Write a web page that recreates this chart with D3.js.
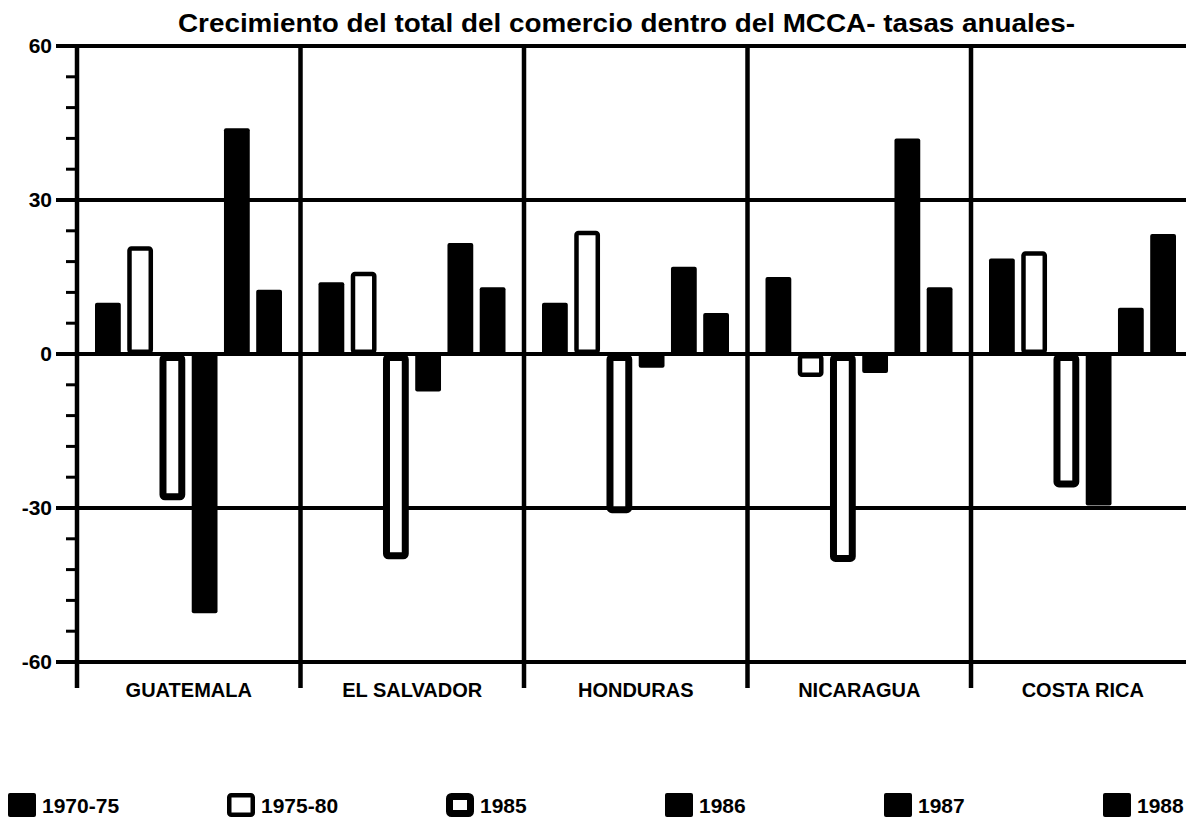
<!DOCTYPE html>
<html>
    <head>
        <meta charset="utf-8" />
        <title>Crecimiento del total del comercio dentro del MCCA</title>
        <script src="https://d3js.org/d3.v7.min.js"></script>
        <style>
            body { margin: 0; background: white; }
            svg { display: block; font-family: "Liberation Sans", Arial, sans-serif; }
        </style>
    </head>

    <body>
        <svg width="1186" height="820" id="chart"></svg>

        <script>

            // categories and periods
            var countries = ["GUATEMALA", "EL SALVADOR", "HONDURAS", "NICARAGUA", "COSTA RICA"];
            var periods = ["1970-75", "1975-80", "1985", "1986", "1987", "1988"];

            // growth rates per period (one value per country)
            var v1970_75 = [10, 14, 10, 15, 18.6];
            var v1975_80 = [21, 16, 24, -4.5, 20];
            var v1985 = [-28.5, -40, -31, -40.5, -26];
            var v1986 = [-50.5, -7.3, -2.7, -3.7, -29.5];
            var v1987 = [44, 21.6, 17, 42, 9];
            var v1988 = [12.5, 13, 8, 13, 23.4];

            var yMajor = [60, 30, 0, -30, -60];
            var yMinor = [54, 48, 42, 36, 24, 18, 12, 6, -6, -12, -18, -24, -36, -42, -48, -54];

            var series = [v1970_75, v1975_80, v1985, v1986, v1987, v1988];

            // build a flat table for the bars
            var bars = [];
            countries.forEach(function(c, i) {
                periods.forEach(function(p, j) {
                    bars.push({country: c, period: p, value: series[j][i]});
                });
            });

            var svg = d3.select("#chart");

            var left = 77, groupW = 223.5;

            var x0 = d3.scaleBand()
                .domain(countries)
                .range([left, left + groupW * countries.length]);

            var x1 = d3.scaleBand()
                .domain(periods)
                .range([18, 205])
                .paddingInner(0.2);

            var y = d3.scaleLinear()
                .domain([-60, 60])
                .range([662, 46]);

            // style of each period: fill + stroke width
            var style = {
                "1970-75": {fill: "#000", sw: 0},
                "1975-80": {fill: "#fff", sw: 4.5},
                "1985": {fill: "#fff", sw: 7},
                "1986": {fill: "#000", sw: 0},
                "1987": {fill: "#000", sw: 0},
                "1988": {fill: "#000", sw: 0}
            };

            // title
            svg.append("text")
                .attr("x", 178)
                .attr("y", 32)
                .attr("textLength", 897)
                .attr("lengthAdjust", "spacingAndGlyphs")
                .style("font-size", "25px")
                .style("font-weight", "bold")
                .text("Crecimiento del total del comercio dentro del MCCA- tasas anuales-");

            // horizontal grid lines at the major values
            svg.selectAll(".grid")
                .data(yMajor)
                .enter().append("line")
                .attr("class", "grid")
                .attr("x1", 56)
                .attr("x2", 1186)
                .attr("y1", function(d) { return y(d); })
                .attr("y2", function(d) { return y(d); })
                .attr("stroke", "#000")
                .attr("stroke-width", 4);

            // minor ticks on the left axis
            svg.selectAll(".minor")
                .data(yMinor)
                .enter().append("line")
                .attr("class", "minor")
                .attr("x1", 66)
                .attr("x2", left)
                .attr("y1", function(d) { return y(d); })
                .attr("y2", function(d) { return y(d); })
                .attr("stroke", "#000")
                .attr("stroke-width", 3);

            // y labels
            svg.selectAll(".ylab")
                .data(yMajor)
                .enter().append("text")
                .attr("class", "ylab")
                .attr("x", 52)
                .attr("y", function(d) { return y(d) + 7; })
                .attr("text-anchor", "end")
                .style("font-size", "21px")
                .style("font-weight", "bold")
                .text(function(d) { return d; });

            // axis + group dividers
            svg.selectAll(".divider")
                .data(countries)
                .enter().append("line")
                .attr("class", "divider")
                .attr("x1", function(d) { return x0(d); })
                .attr("x2", function(d) { return x0(d); })
                .attr("y1", y(60))
                .attr("y2", 688)
                .attr("stroke", "#000")
                .attr("stroke-width", 4.5);

            // bars
            svg.selectAll(".bar")
                .data(bars)
                .enter().append("rect")
                .attr("class", "bar")
                .attr("x", function(d) { return x0(d.country) + x1(d.period) + style[d.period].sw / 2; })
                .attr("y", function(d) { return y(Math.max(0, d.value)) + style[d.period].sw / 2; })
                .attr("width", function(d) { return x1.bandwidth() - style[d.period].sw; })
                .attr("height", function(d) { return Math.abs(y(d.value) - y(0)) - style[d.period].sw; })
                .attr("rx", 2)
                .attr("fill", function(d) { return style[d.period].fill; })
                .attr("stroke", "#000")
                .attr("stroke-width", function(d) { return style[d.period].sw; });

            // country labels
            svg.selectAll(".clab")
                .data(countries)
                .enter().append("text")
                .attr("class", "clab")
                .attr("x", function(d) { return x0(d) + groupW / 2; })
                .attr("y", 697)
                .attr("text-anchor", "middle")
                .style("font-size", "20px")
                .style("font-weight", "bold")
                .text(function(d) { return d; });

            // legend
            var legend = svg.selectAll(".legend")
                .data(periods)
                .enter().append("g")
                .attr("class", "legend")
                .attr("transform", function(d, i) { return "translate(" + (8 + i * 219) + ",793)"; });

            legend.append("rect")
                .attr("x", function(d) { return style[d].sw / 2; })
                .attr("y", function(d) { return style[d].sw / 2; })
                .attr("width", function(d) { return 28 - style[d].sw; })
                .attr("height", function(d) { return 24 - style[d].sw; })
                .attr("rx", 2)
                .attr("fill", function(d) { return style[d].fill; })
                .attr("stroke", "#000")
                .attr("stroke-width", function(d) { return style[d].sw; });

            legend.append("text")
                .attr("x", 34)
                .attr("y", 20)
                .style("font-size", "21px")
                .style("font-weight", "bold")
                .text(function(d) { return d; });

        </script>
    </body>
</html>
